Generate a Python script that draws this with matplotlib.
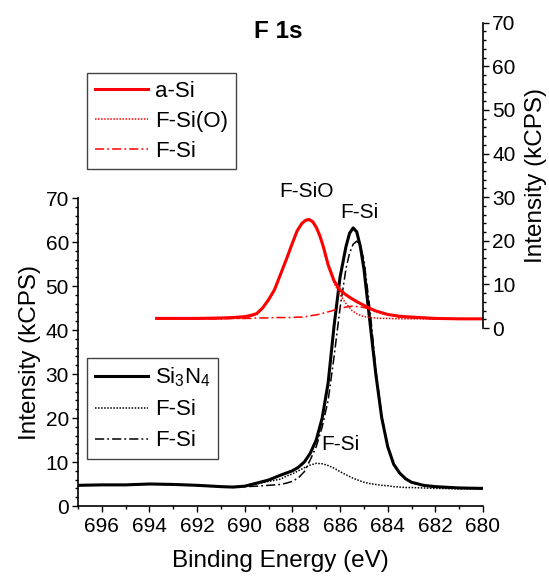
import numpy as np
import matplotlib
matplotlib.use('Agg')
from matplotlib import pyplot as plt
from matplotlib.ticker import MultipleLocator

plt.rcParams['font.family'] = ['Liberation Sans', 'DejaVu Sans']
plt.rcParams['mathtext.fontset'] = 'custom'
plt.rcParams['mathtext.rm'] = 'Liberation Sans'
plt.rcParams['mathtext.it'] = 'Liberation Sans'
plt.rcParams['mathtext.default'] = 'rm'

# Si3N4 (left axis, black)
be_sin = [697, 696, 695, 694, 693, 692, 691, 690.5, 690, 689.5,
          689, 688.5, 688.25, 688, 687.75, 687.5, 687.25, 687, 686.75, 686.5,
          686.25, 686, 685.75, 685.6, 685.45, 685.3, 685.15, 685, 684.75, 684.5,
          684.25, 684, 683.75, 683.5, 683.25, 683, 682.5, 682, 681, 680]
sin_total = [4.7, 4.8, 4.8, 5.0, 4.9, 4.7, 4.4, 4.3, 4.5, 5.2,
             5.9, 7.0, 7.5, 8.0, 8.8, 10.0, 12.0, 15.0, 20.0, 28.0,
             41.0, 52.0, 59.0, 62.0, 63.2, 62.3, 59.0, 54.0, 42.0, 30.0,
             20.0, 13.5, 9.5, 7.5, 6.2, 5.4, 4.7, 4.4, 4.1, 4.0]
sin_fsi_a = [4.7, 4.8, 4.8, 5.0, 4.9, 4.7, 4.4, 4.4, 4.6, 5.0,
             5.6, 6.1, 6.8, 7.3, 8.0, 8.7, 9.3, 9.7, 9.6, 9.2,
             8.6, 7.8, 7.1, 6.7, 6.3, 6.0, 5.7, 5.4, 5.1, 4.9,
             4.7, 4.6, 4.4, 4.3, 4.2, 4.2, 4.1, 4.0, 3.9, 3.9]
sin_fsi_b = [4.7, 4.8, 4.8, 5.0, 4.9, 4.7, 4.4, 4.3, 4.4, 4.5,
             4.7, 4.9, 5.2, 5.6, 6.4, 7.8, 10.5, 13.5, 18.0, 24.0,
             34.0, 45.0, 54.0, 57.5, 59.5, 60.2, 59.0, 56.0, 45.0, 31.0,
             20.5, 13.5, 9.5, 7.4, 6.0, 5.3, 4.6, 4.3, 4.1, 4.0]

# a-Si (right axis, red)
be_asi = [693.7, 693, 692, 691, 690.5, 690, 689.75, 689.5, 689.25, 689,
          688.75, 688.5, 688.25, 688, 687.8, 687.6, 687.45, 687.3, 687.15, 687,
          686.85, 686.7, 686.5, 686.25, 686, 685.75, 685.5, 685.25, 685, 684.75,
          684.5, 684.25, 684, 683.5, 683, 682, 681, 680]
asi_total = [2.2, 2.2, 2.2, 2.3, 2.4, 2.6, 2.9, 3.3, 4.6, 6.5,
             8.8, 12.3, 15.8, 19.5, 22.3, 24.0, 24.7, 24.9, 24.4, 23.1,
             21.2, 18.6, 14.5, 10.8, 8.7, 7.6, 6.7, 5.9, 5.2, 4.5,
             3.9, 3.5, 3.1, 2.7, 2.5, 2.2, 2.1, 2.1]
asi_fsio = [2.1, 2.1, 2.1, 2.1, 2.2, 2.2, 2.6, 3.1, 4.4, 6.3,
            8.6, 12.1, 15.6, 19.3, 22.1, 23.8, 24.5, 24.7, 24.2, 22.8,
            20.8, 18.1, 14.0, 10.2, 7.6, 5.6, 4.0, 3.1, 2.6, 2.4,
            2.3, 2.2, 2.2, 2.1, 2.1, 2.1, 2.1, 2.1]
asi_fsi = [2.1, 2.1, 2.1, 2.1, 2.2, 2.2, 2.2, 2.3, 2.3, 2.3,
           2.4, 2.4, 2.4, 2.4, 2.5, 2.5, 2.6, 2.7, 2.9, 3.0,
           3.2, 3.4, 3.7, 4.1, 4.5, 4.8, 5.0, 4.9, 4.7, 4.3,
           3.8, 3.4, 3.0, 2.5, 2.3, 2.1, 2.1, 2.1]

W, H = 549, 576
fig = plt.figure(figsize=(W / 100, H / 100), dpi=100)

ax1 = fig.add_axes([78 / W, (H - 506) / H, 405 / W, 308 / H])
ax2 = fig.add_axes([78 / W, (H - 328) / H, 405 / W, 305.3 / H])

red = '#ff0000'
dot = (0, (1, 1))
dashdot = (0, (6, 2, 1.2, 2))
ax1.plot(be_sin, sin_total, color='k', lw=2.2, label=r'Si$_3$N$_4$')
ax1.plot(be_sin, sin_fsi_a, color='k', lw=1.1, ls=dot, label='F-Si')
ax1.plot(be_sin, sin_fsi_b, color='k', lw=1.1, ls=dashdot, label='F-Si')

ax2.plot(be_asi, asi_total, color=red, lw=2.2, label='a-Si')
ax2.plot(be_asi, asi_fsio, color=red, lw=1.1, ls=dot, label='F-Si(O)')
ax2.plot(be_asi, asi_fsi, color=red, lw=1.1, ls=dashdot, label='F-Si')

for ax in (ax1, ax2):
    ax.set_xlim(697, 680)
    ax.set_ylim(0, 70)
    ax.xaxis.set_major_locator(MultipleLocator(2))
    ax.xaxis.set_minor_locator(MultipleLocator(1))
    ax.yaxis.set_major_locator(MultipleLocator(10))
    ax.yaxis.set_minor_locator(MultipleLocator(2))
    ax.tick_params(which='major', direction='out', length=4.5, width=1, labelsize=15)
    ax.tick_params(which='minor', direction='out', length=2.5, width=1)
    for s in ax.spines.values():
        s.set_linewidth(1.2)

ax1.spines['top'].set_visible(False)
ax1.spines['right'].set_visible(False)
ax1.tick_params(axis='y', pad=2)
ax1.set_xlabel('Binding Energy (eV)', fontsize=17.5, labelpad=10)
ax1.set_ylabel('Intensity (kCPS)', fontsize=17.5, labelpad=3)

ax2.patch.set_alpha(0)
for s in ('top', 'left', 'bottom'):
    ax2.spines[s].set_visible(False)
ax2.yaxis.tick_right()
ax2.yaxis.set_label_position('right')
ax2.tick_params(axis='y', pad=2)
ax2.set_xticks([])
ax2.set_xticks([], minor=True)
ax2.set_ylabel('Intensity (kCPS)', fontsize=17.5, ha='center', va='center')
ax2.yaxis.set_label_coords((536 - 78) / 405, 0.5)

ax2.text(687.4, 31.2, 'F-SiO', fontsize=15, ha='center', va='center')
ax2.text(685.2, 26.4, 'F-Si', fontsize=15, ha='center', va='center')
ax1.text(686.0, 13.9, 'F-Si', fontsize=15, ha='center', va='center')

fig.text(278 / W, 1 - 31 / H, 'F 1s', fontsize=17.5, fontweight='bold', ha='center', va='center')

leg_kw = dict(loc='upper left', bbox_transform=fig.transFigure, borderaxespad=0,
              fancybox=False, framealpha=1, edgecolor='#444444', fontsize=16,
              handlelength=2.4, handletextpad=0.3, borderpad=0.35)
l1 = ax1.legend(bbox_to_anchor=(87 / W, 1 - 358 / H), labelspacing=0.45, **leg_kw)
l2 = ax2.legend(bbox_to_anchor=(87 / W, 1 - 73 / H), labelspacing=0.4, **leg_kw)
for l in (l1, l2):
    l.get_frame().set_linewidth(1.0)

fig.savefig('out.png', dpi=100)
